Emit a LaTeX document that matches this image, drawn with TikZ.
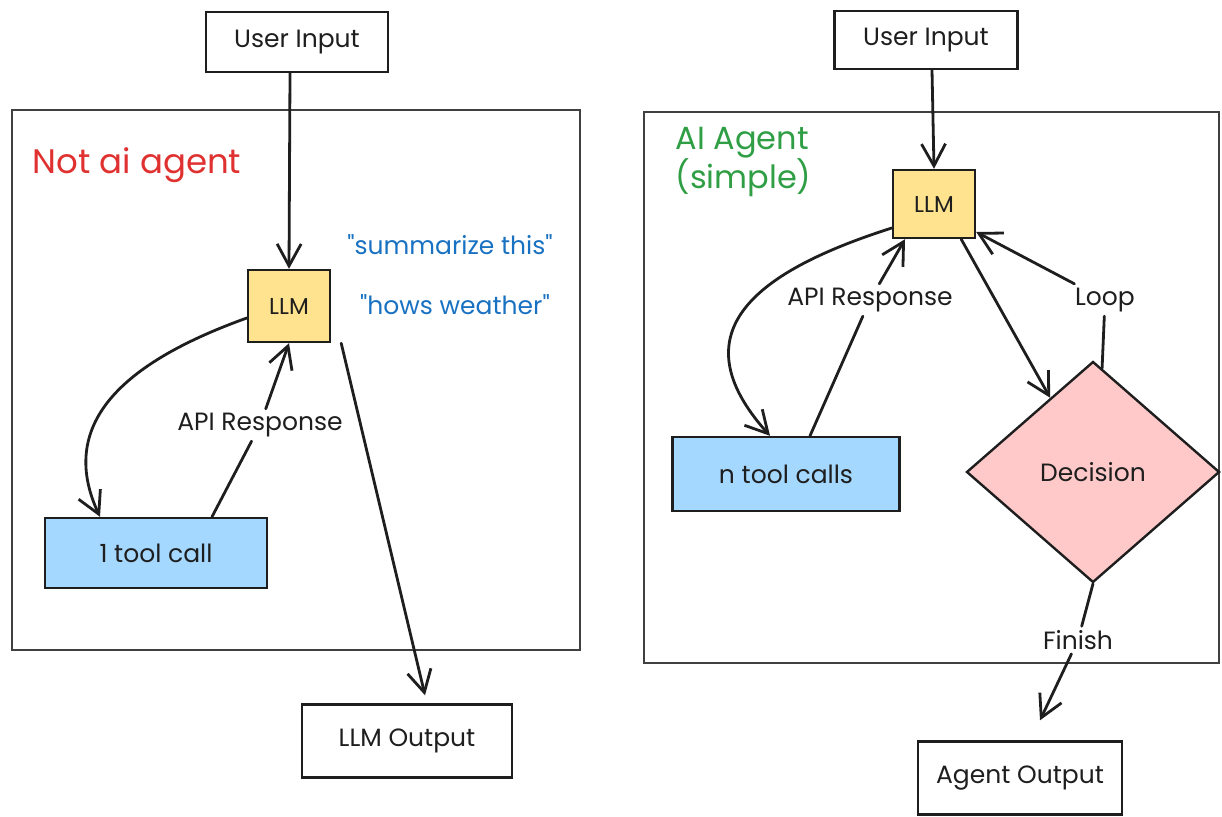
\documentclass[tikz,border=0pt]{standalone}
\usepackage{fontspec}
\setmainfont{Poppins}[Ligatures=TeXOff]
\usetikzlibrary{arrows.meta,shapes.geometric}
\definecolor{llmfill}{HTML}{FFE38F}
\definecolor{toolfill}{HTML}{A5D8FF}
\definecolor{decfill}{HTML}{FFC9C9}
\definecolor{redtxt}{HTML}{E03131}
\definecolor{bluetxt}{HTML}{1971C2}
\definecolor{greentxt}{HTML}{2F9E44}
\definecolor{ink}{HTML}{1E1E1E}
\tikzset{
  x=1pt, y=-1pt,
  every node/.style={font=\fontsize{25}{30}\selectfont, text=ink},
  box/.style={draw=ink, line width=2.4pt, rectangle, inner sep=0pt},
  llmbox/.style={box, fill=llmfill, minimum width=82pt, minimum height=72pt, font=\fontsize{23}{27}\selectfont},
  toolbox/.style={box, fill=toolfill},
  decbox/.style={draw=ink, line width=2.4pt, diamond, fill=decfill, inner sep=0pt, minimum width=253pt, minimum height=221pt},
  framebox/.style={draw=ink!85, line width=1.8pt, rectangle, inner sep=0pt},
  lbl/.style={inner sep=4pt},
  conn/.style={draw=ink, line width=2.8pt, line cap=round},
  arr/.style={conn, -{Straight Barb[length=22pt,width=24pt,line width=2.8pt]}}
}
\begin{document}
\begin{tikzpicture}
\useasboundingbox (0,0) rectangle (1222,816);
% ---------- left panel ----------
\node[framebox, minimum width=568pt, minimum height=540pt] (frame1) at (296,380) {};
\node[box, minimum width=182pt, minimum height=60pt] (ui1) at (297,42) {User Input};
\node[text=redtxt, font=\fontsize{34}{38}\selectfont] (title1) at (137,165) {Not ai agent};
\node[llmbox] (llm1) at (289,306) {LLM};
\node[text=bluetxt] (q1) at (450,245) {"summarize this"};
\node[text=bluetxt] (q2) at (455,305) {"hows weather"};
\node[toolbox, minimum width=222pt, minimum height=70pt] (tool1) at (156,553) {1 tool call};
\node[lbl] (api1) at (260,425) {API Response};
\node[box, minimum width=210pt, minimum height=73pt] (out1) at (407,741) {LLM Output};

\draw[arr] ([xshift=-7pt]ui1.south) -- (llm1.north);
\draw[arr] ([yshift=-12pt]llm1.west) .. controls (130,360) and (55,420) .. ([xshift=-56pt]tool1.north);
\draw[conn] ([xshift=56pt]tool1.north) -- (api1);
\draw[arr] (api1) -- (llm1.south);
\draw[arr] ([xshift=10pt]llm1.south east) -- ([xshift=18pt,yshift=8pt]out1.north);

% ---------- right panel ----------
\node[framebox, minimum width=575pt, minimum height=551pt] (frame2) at (931.5,387.5) {};
\node[box, minimum width=183pt, minimum height=58pt] (ui2) at (926,40) {User Input};
\node[text=greentxt, font=\fontsize{32}{38}\selectfont, align=left, anchor=west] (title2) at (672,162) {AI Agent\\(simple)};
\node[llmbox, minimum height=68pt] (llm2) at (934,204) {LLM};
\node[toolbox, minimum width=227pt, minimum height=74pt] (tool2) at (786,474) {n tool calls};
\node[decbox] (dec) at (1093,472) {Decision};
\node[lbl] (api2) at (870,300) {API Response};
\node[lbl] (loop) at (1105,300) {Loop};
\node[lbl] (fin) at (1078,640) {Finish};
\node[box, minimum width=204pt, minimum height=73pt] (out2) at (1020,778) {Agent Output};

\draw[arr] ([xshift=6pt]ui2.south) -- (llm2.north);
\draw[arr] ([yshift=-24pt]llm2.west) .. controls (760,270) and (675,330) .. ([xshift=-16pt]tool2.north);
\draw[conn] ([xshift=24pt]tool2.north) -- (api2);
\draw[arr] (api2) -- ([xshift=-29pt]llm2.south);
\draw[arr] ([xshift=-15pt]llm2.south east) -- (dec.120);
\draw[conn] (dec.85) -- (loop);
\draw[arr] (loop) -- ([yshift=-28pt]llm2.east);
\draw[conn] (dec.south) -- (fin);
\draw[arr] (fin) -- ([xshift=20pt,yshift=20pt]out2.north);
\end{tikzpicture}
\end{document}
